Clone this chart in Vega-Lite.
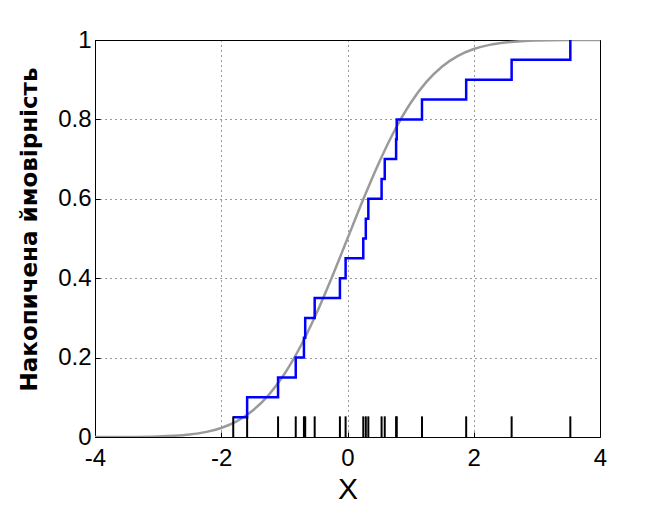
{
  "$schema": "https://vega.github.io/schema/vega-lite/v6.json",
  "width": 505,
  "height": 397,
  "autosize": {"type": "none"},
  "padding": {"left": 95, "top": 40, "right": 63, "bottom": 75},
  "background": "white",
  "config": {
    "font": "Liberation Sans",
    "view": {"stroke": "#000000", "strokeWidth": 1},
    "axis": {
      "labelFont": "Liberation Sans",
      "titleFont": "Liberation Sans",
      "labelColor": "#000000",
      "titleColor": "#000000",
      "labelFontSize": 24,
      "domainColor": "#000000",
      "tickColor": "#000000",
      "ticks": true,
      "tickSize": -5,
      "grid": true,
      "gridColor": "#000000",
      "gridDash": [1, 4],
      "gridWidth": 1,
      "gridOpacity": 0.8
    }
  },
  "datasets": {
    "norm": [
      {"x": -4, "p": 0.00003},
      {"x": -3.5, "p": 0.00023},
      {"x": -3, "p": 0.00135},
      {"x": -2.75, "p": 0.00298},
      {"x": -2.5, "p": 0.00621},
      {"x": -2.25, "p": 0.01222},
      {"x": -2, "p": 0.02275},
      {"x": -1.75, "p": 0.04006},
      {"x": -1.5, "p": 0.06681},
      {"x": -1.25, "p": 0.10565},
      {"x": -1, "p": 0.15866},
      {"x": -0.75, "p": 0.22663},
      {"x": -0.5, "p": 0.30854},
      {"x": -0.25, "p": 0.40129},
      {"x": 0, "p": 0.5},
      {"x": 0.25, "p": 0.59871},
      {"x": 0.5, "p": 0.69146},
      {"x": 0.75, "p": 0.77337},
      {"x": 1, "p": 0.84134},
      {"x": 1.25, "p": 0.89435},
      {"x": 1.5, "p": 0.93319},
      {"x": 1.75, "p": 0.95994},
      {"x": 2, "p": 0.97725},
      {"x": 2.25, "p": 0.98778},
      {"x": 2.5, "p": 0.99379},
      {"x": 2.75, "p": 0.99702},
      {"x": 3, "p": 0.99865},
      {"x": 3.5, "p": 0.99977},
      {"x": 4, "p": 0.99997}
    ],
    "ecdf": [
      {"i": 1, "x": -1.81, "p": 0.05},
      {"i": 2, "x": -1.59, "p": 0.10},
      {"i": 3, "x": -1.10, "p": 0.15},
      {"i": 4, "x": -0.82, "p": 0.20},
      {"i": 5, "x": -0.69, "p": 0.25},
      {"i": 6, "x": -0.67, "p": 0.30},
      {"i": 7, "x": -0.52, "p": 0.35},
      {"i": 8, "x": -0.12, "p": 0.40},
      {"i": 9, "x": -0.03, "p": 0.45},
      {"i": 10, "x": 0.25, "p": 0.50},
      {"i": 11, "x": 0.29, "p": 0.55},
      {"i": 12, "x": 0.33, "p": 0.60},
      {"i": 13, "x": 0.54, "p": 0.65},
      {"i": 14, "x": 0.59, "p": 0.70},
      {"i": 15, "x": 0.77, "p": 0.75},
      {"i": 16, "x": 0.78, "p": 0.80},
      {"i": 17, "x": 1.18, "p": 0.85},
      {"i": 18, "x": 1.88, "p": 0.90},
      {"i": 19, "x": 2.60, "p": 0.95},
      {"i": 20, "x": 3.53, "p": 1.00}
    ]
  },
  "layer": [
    {
      "data": {"name": "norm"},
      "mark": {"type": "line", "color": "#9a9a9a", "strokeWidth": 2.5, "interpolate": "monotone", "clip": true},
      "encoding": {
        "x": {
          "field": "x", "type": "quantitative",
          "scale": {"domain": [-4, 4], "nice": false},
          "axis": {
            "values": [-4, -2, 0, 2, 4],
            "labelExpr": "'' + datum.value",
            "title": "X",
            "titleFontSize": 30,
            "titleFontWeight": "normal",
            "titlePadding": 4,
            "labelPadding": 14,
            "labelFlush": false
          }
        },
        "y": {
          "field": "p", "type": "quantitative",
          "scale": {"domain": [0, 1], "nice": false},
          "axis": {
            "values": [0, 0.2, 0.4, 0.6, 0.8, 1],
            "labelExpr": "'' + datum.value",
            "title": "Накопичена ймовірність",
            "titleFont": "DejaVu Sans",
            "titleFontSize": 23,
            "titleFontWeight": "bold",
            "titleAngle": -90,
            "titleAlign": "center",
            "titleBaseline": "alphabetic",
            "titleX": -59,
            "titleY": 189,
            "labelPadding": 9,
            "labelFlush": false
          }
        }
      }
    },
    {
      "data": {"name": "ecdf"},
      "mark": {"type": "line", "color": "#0000FF", "strokeWidth": 2.5, "interpolate": "step-after"},
      "encoding": {
        "x": {"field": "x", "type": "quantitative"},
        "y": {"field": "p", "type": "quantitative"},
        "order": {"field": "i", "type": "quantitative"}
      }
    },
    {
      "data": {"name": "ecdf"},
      "mark": {"type": "rule", "color": "#000000", "strokeWidth": 2},
      "encoding": {
        "x": {"field": "x", "type": "quantitative"},
        "y": {"datum": 0},
        "y2": {"datum": 0.052}
      }
    }
  ]
}
